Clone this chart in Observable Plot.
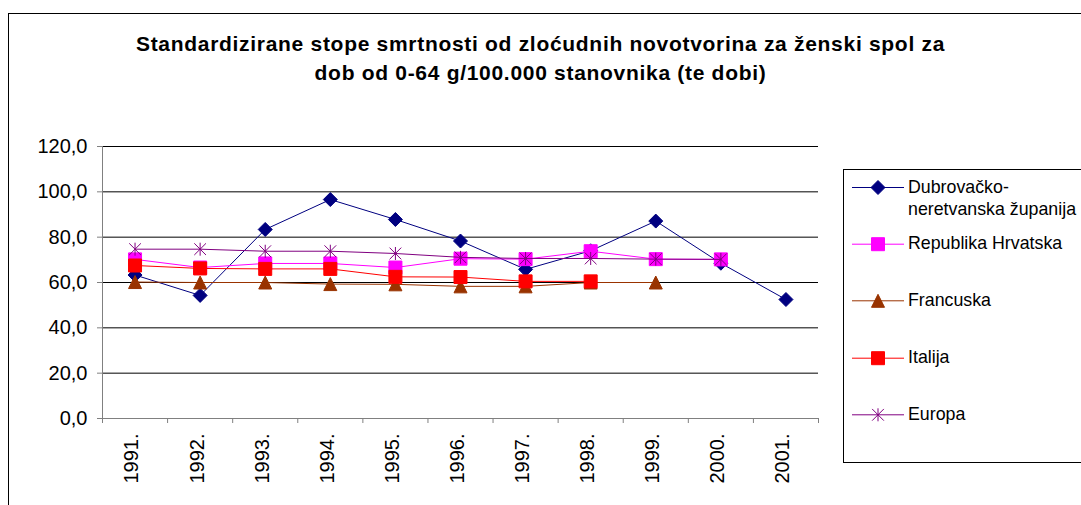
<!DOCTYPE html>
<html>
<head>
<meta charset="utf-8">
<script src="https://cdn.jsdelivr.net/npm/d3@7"></script>
<script src="https://cdn.jsdelivr.net/npm/@observablehq/plot@0.6"></script>
<style>
  html, body { margin: 0; padding: 0; background: #fff; overflow: hidden; }
  #wrap { position: relative; width: 1081px; height: 505px; overflow: hidden; font-family: "Liberation Sans", Arial, sans-serif; }
  #frame { position: absolute; left: 8px; top: 13px; width: 1200px; height: 600px; border: 1px solid #000; }
  #title { position: absolute; left: 0; top: 29px; width: 1081px; text-align: center; font-weight: bold; font-size: 21px; line-height: 29px; letter-spacing: 0.7px; color: #000; }
  #chart { position: absolute; left: 0; top: 0; }
  #legend { position: absolute; left: 843px; top: 169px; width: 300px; height: 292px; border: 1px solid #000; background: #fff; }
  #legend svg { position: absolute; left: -1px; top: -1px; overflow: visible; }
</style>
</head>
<body>
<div id="wrap">
  <div id="frame"></div>
  <div id="chart"></div>
  <div id="title">Standardizirane stope smrtnosti od zloćudnih novotvorina za ženski spol za<br>dob od 0-64 g/100.000 stanovnika (te dobi)</div>
  <div id="legend"></div>
</div>
<script>
// ---- data ----
const years = [1991, 1992, 1993, 1994, 1995, 1996, 1997, 1998, 1999, 2000, 2001];
const dubrovackoNeretvanska = [63.3, 54.3, 83.4, 96.6, 87.8, 78.3, 65.8, 74.0, 87.1, 68.5, 52.5];
const republikaHrvatska    = [70.2, 66.6, 68.4, 68.4, 66.6, 70.5, 70.3, 73.8, 70.3, 70.2, null];
const francuska            = [60.2, 60.0, 60.0, 59.3, 59.2, 58.3, 58.3, 60.0, 60.0, null, null];
const italija              = [67.5, 66.2, 66.0, 66.0, 62.5, 62.4, 60.5, 60.5, null, null, null];
const europa               = [74.7, 74.7, 73.8, 73.8, 72.8, 71.1, 70.6, 70.6, 70.3, 70.2, null];
const seriesNames = ["Dubrovačko-neretvanska županija", "Republika Hrvatska", "Francuska", "Italija", "Europa"];
const legendLabels = [["Dubrovačko-", "neretvanska županija"], ["Republika Hrvatska"], ["Francuska"], ["Italija"], ["Europa"]];
const yTicks = [0, 20, 40, 60, 80, 100, 120];

// ---- styles ----
const colors = ["#000080", "#FF00FF", "#993300", "#FF0000", "#800080"];

// custom marker shapes (size -> half extent R = sqrt(size/PI))
const half = s => Math.sqrt(s / Math.PI);
const symDiamond = { draw(c, s) { const r = half(s); c.moveTo(0, -r); c.lineTo(r, 0); c.lineTo(0, r); c.lineTo(-r, 0); c.closePath(); } };
const symSquare = { draw(c, s) { const r = half(s); c.moveTo(-r, -r); c.lineTo(r, -r); c.lineTo(r, r); c.lineTo(-r, r); c.closePath(); } };
const symTriangle = { draw(c, s) { const r = half(s); c.moveTo(0, -r); c.lineTo(r, r); c.lineTo(-r, r); c.closePath(); } };
const symAsterisk = { draw(c, s) { const r = half(s); c.moveTo(0, -r); c.lineTo(0, r); c.moveTo(-r * 0.9, -r * 0.9); c.lineTo(r * 0.9, r * 0.9); c.moveTo(-r * 0.9, r * 0.9); c.lineTo(r * 0.9, -r * 0.9); } };
const symbols = [symDiamond, symSquare, symTriangle, symSquare, symAsterisk];
const radii = [7, 6.5, 6.5, 6.5, 6.5];
const filled = [true, true, true, true, false];

const allValues = [dubrovackoNeretvanska, republikaHrvatska, francuska, italija, europa];
const series = seriesNames.map((name, i) => ({
  name,
  rows: years.map((year, j) => ({ year, value: allValues[i][j] })).filter(d => d.value != null)
}));

const bounds = years.map(y => y - 0.5).concat([years[years.length - 1] + 0.5]);

const marks = [
  Plot.ruleY(yTicks.filter(v => v > 0), { stroke: "#000", strokeWidth: 1 }),
  Plot.ruleX([bounds[0]], { stroke: "#808080" }),
  Plot.ruleY([0], { stroke: "#808080" }),
  Plot.axisY({ ticks: yTicks, tickSize: 5, tickPadding: 10, tickFormat: v => v.toFixed(1).replace(".", ","), fontSize: 20, stroke: "#808080", fill: "#000", label: null }),
  Plot.axisX({ ticks: bounds, tickSize: 5, tickFormat: () => "", stroke: "#808080", label: null }),
  Plot.axisX({ ticks: years, tickSize: 0, tickPadding: 15, tickRotate: -90, dx: -3, tickFormat: d => d + ".", fontSize: 20, fill: "#000", label: null })
];
series.forEach((s, i) => {
  marks.push(Plot.line(s.rows, { x: "year", y: "value", stroke: colors[i], strokeWidth: 1 }));
  marks.push(Plot.dot(s.rows, {
    x: "year", y: "value", r: radii[i], symbol: symbols[i],
    fill: filled[i] ? colors[i] : "none", stroke: colors[i], strokeWidth: 1
  }));
});

const chart = Plot.plot({
  width: 1081,
  height: 505,
  marginLeft: 102,
  marginRight: 263,
  marginTop: 146,
  marginBottom: 87,
  style: { fontFamily: "'Liberation Sans', Arial, sans-serif", background: "transparent", color: "#000" },
  x: { type: "linear", domain: [bounds[0], bounds[bounds.length - 1]] },
  y: { domain: [0, 120] },
  marks
});
document.getElementById("chart").appendChild(chart);

// ---- legend ----
const lg = d3.select("#legend").append("svg").attr("width", 300).attr("height", 300);
const entryY = [17, 73.7, 130.3, 187.7, 244.3];
legendLabels.forEach((lines, i) => {
  const g = lg.append("g").attr("transform", `translate(0,${entryY[i] + 1})`);
  g.append("line").attr("x1", 9).attr("x2", 61).attr("y1", 0.5).attr("y2", 0.5).attr("stroke", colors[i]).attr("stroke-width", 1);
  g.append("path").attr("transform", "translate(35,0.5)")
    .attr("d", d3.symbol(symbols[i], Math.PI * radii[i] * radii[i])())
    .attr("fill", filled[i] ? colors[i] : "none").attr("stroke", colors[i]);
  lines.forEach((t, k) => {
    g.append("text").attr("x", 65).attr("y", 5.5 + k * 22.6)
      .attr("font-family", "'Liberation Sans', Arial, sans-serif").attr("font-size", 17.8).attr("fill", "#000").text(t);
  });
});
</script>
</body>
</html>
